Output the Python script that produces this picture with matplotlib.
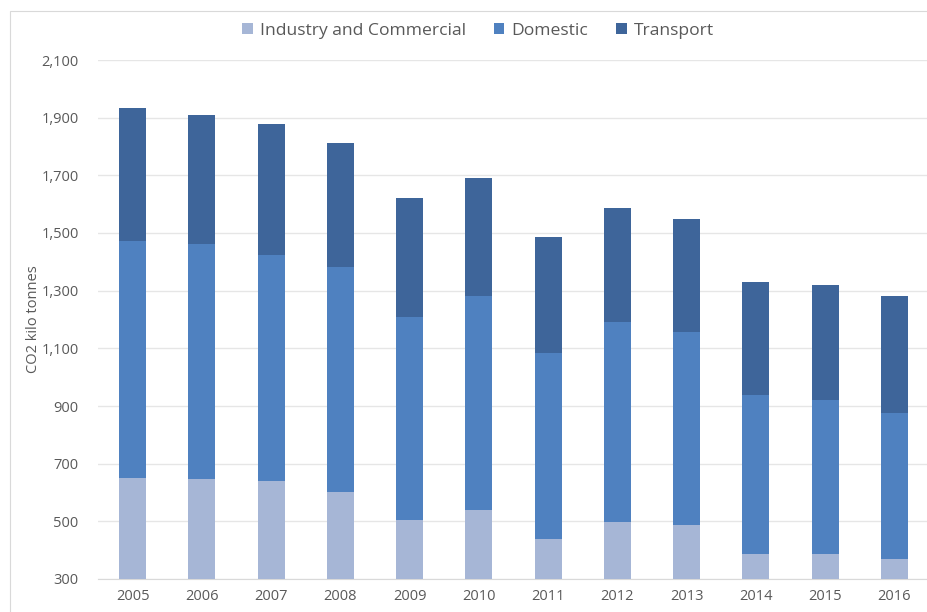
import matplotlib.pyplot as plt
import numpy as np
from matplotlib.patches import Rectangle

plt.rcParams['font.family'] = ['Open Sans', 'DejaVu Sans']

years = ['2005', '2006', '2007', '2008', '2009', '2010',
         '2011', '2012', '2013', '2014', '2015', '2016']
industry = [649, 646, 641, 603, 505, 539, 439, 499, 487, 386, 387, 368]
domestic = [823, 815, 783, 780, 705, 742, 644, 693, 671, 552, 534, 509]
transport = [462, 449, 453, 430, 412, 409, 404, 394, 390, 391, 398, 403]

c_ind = '#a6b6d6'
c_dom = '#4f81c0'
c_tra = '#3e659a'

fig = plt.figure(figsize=(9.27, 6.12), dpi=100)
ax = fig.add_axes([98 / 927, 1 - 579 / 612, 831 / 927, 519 / 612])

# thin chart-area border like the spreadsheet export
fig.patches.append(Rectangle((10 / 927, -0.02), 1.1, 1 - 11 / 612 + 0.02,
                             transform=fig.transFigure, fill=False,
                             edgecolor='#d9d9d9', lw=0.8))

x = np.arange(len(years))
ind = np.array(industry)
dom = np.array(domestic)
tra = np.array(transport)
w = 0.39

ax.bar(x, ind - 300, w, bottom=300, color=c_ind, label='Industry and Commercial', zorder=3)
ax.bar(x, dom, w, bottom=ind, color=c_dom, label='Domestic', zorder=3)
ax.bar(x, tra, w, bottom=ind + dom, color=c_tra, label='Transport', zorder=3)

ax.set_ylim(300, 2100)
ax.set_xlim(-0.5, 11.5)
ax.set_yticks(range(300, 2101, 200))
ax.set_yticklabels(['{:,}'.format(v) for v in range(300, 2101, 200)])
ax.set_xticks(x)
ax.set_xticklabels(years)
ax.grid(axis='y', color='#e6e6e6', lw=1, zorder=0)
for s in ['top', 'right', 'left']:
    ax.spines[s].set_visible(False)
ax.spines['bottom'].set_color('#d9d9d9')
ax.tick_params(axis='both', length=0, labelsize=10.5, colors='#595959')
ax.tick_params(axis='y', pad=14)
ax.tick_params(axis='x', pad=7)
ax.set_ylabel('CO2 kilo tonnes', fontsize=10.5, color='#595959', labelpad=0)

fig.legend(loc='center', bbox_to_anchor=(478 / 927, 1 - 31 / 612), ncol=3,
           frameon=False, fontsize=12.6, handlelength=0.6, handleheight=0.6,
           handletextpad=0.4, columnspacing=1.6, labelcolor='#595959')

fig.savefig('out.png', dpi=100)
